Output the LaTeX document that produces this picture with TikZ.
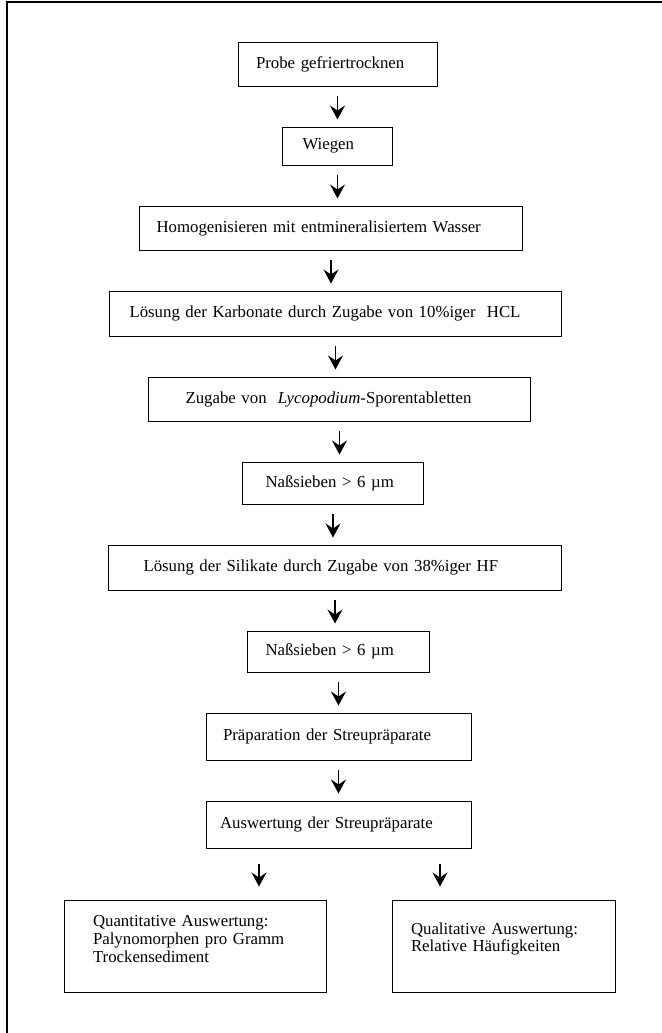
\documentclass[tikz,border=0pt]{standalone}
\usepackage{fontspec}
\setmainfont{Liberation Serif}
\usepackage{tikz}
\usetikzlibrary{arrows.meta, positioning}
\tikzstyle{stepbox} = [rectangle, draw, line width=0.5pt, align=left, inner ysep=2pt, font=\fontsize{8.4pt}{8.8pt}\selectfont]
\tikzstyle{connector} = [draw, line width=0.65pt, -{Stealth[length=7pt, width=7.5pt, inset=2.5pt]}, shorten <=4.5pt, shorten >=3.5pt]

\begin{document}
\begin{tikzpicture}[node distance=20pt]
      \useasboundingbox (0,0) rectangle (331pt,-516.5pt);
      % Page frame
      \draw [line width=0.6pt] (3.5pt,-516.5pt) -- (3.5pt,-1pt) -- (331pt,-1pt);

      % Steps, one below the other
      \node (probe) [stepbox, text width=81.5pt, inner xsep=9pt, minimum height=22pt] at (168.75pt,-32pt) {Probe gefriertrocknen};
      \node (wiegen) [stepbox, text width=35pt, inner xsep=10pt, minimum height=19pt, below=of probe] {Wiegen};
      \node (homog) [stepbox, text width=174.5pt, inner xsep=8.5pt, minimum height=22pt, below=of wiegen, xshift=-3.25pt] {Homogenisieren mit entmineralisiertem Wasser};
      \node (karbonate) [stepbox, text width=206pt, inner xsep=10pt, minimum height=22.5pt, below=of homog, xshift=2.25pt] {Lösung der Karbonate durch Zugabe von 10\%iger\ \ HCL};
      \node (lyco) [stepbox, text width=154pt, inner xsep=18.5pt, minimum height=22pt, below=of karbonate, xshift=2pt] {Zugabe von\ \ \textit{Lycopodium}-Sporentabletten};
      \node (nass_a) [stepbox, text width=67.5pt, inner xsep=11.5pt, minimum height=21pt, below=of lyco, xshift=-3.25pt] {Naßsieben > 6 µm};
      \node (silikate) [stepbox, text width=191.5pt, inner xsep=17.5pt, minimum height=22.5pt, below=of nass_a, xshift=1pt] {Lösung der Silikate durch Zugabe von 38\%iger HF};
      \node (nass_b) [stepbox, text width=73pt, inner xsep=9pt, minimum height=20.5pt, below=of silikate, xshift=1.75pt] {Naßsieben > 6 µm};
      \node (praep) [stepbox, text width=115.5pt, inner xsep=8.5pt, minimum height=23.5pt, below=of nass_b] {Präparation der Streupräparate};
      \node (ausw) [stepbox, text width=118.5pt, inner xsep=7pt, minimum height=23.5pt, below=of praep] {Auswertung der Streupräparate};
      \node (quant) [stepbox, text width=102pt, inner xsep=14.5pt, text depth=24.6pt, minimum height=46pt, below=25.5pt of ausw, xshift=-71.75pt] {Quantitative Auswertung:\\Palynomorphen pro Gramm\\Trockensediment};
      \node (qual) [stepbox, text width=92.5pt, inner xsep=9.5pt, text depth=17.6pt, minimum height=46pt, below=25.5pt of ausw, xshift=82.5pt] {Qualitative Auswertung:\\Relative Häufigkeiten};

      % Arrows
      \draw [connector] (probe) -- (probe |- wiegen.north);
      \draw [connector] (wiegen) -- (wiegen |- homog.north);
      \draw [connector] (homog) -- (homog |- karbonate.north);
      \draw [connector] (karbonate) -- (karbonate |- lyco.north);
      \draw [connector] (lyco) -- (lyco |- nass_a.north);
      \draw [connector] (nass_a) -- (nass_a |- silikate.north);
      \draw [connector] (silikate) -- (silikate |- nass_b.north);
      \draw [connector] (nass_b) -- (nass_b |- praep.north);
      \draw [connector] (praep) -- (praep |- ausw.north);
      \draw [connector, shorten <=7.5pt, shorten >=6.5pt] ([xshift=-39.75pt]ausw.south) -- ([xshift=32pt]quant.north);
      \draw [connector, shorten <=7.5pt, shorten >=6.5pt] ([xshift=50.75pt]ausw.south) -- ([xshift=-31.75pt]qual.north);
    \end{tikzpicture}
\end{document}
